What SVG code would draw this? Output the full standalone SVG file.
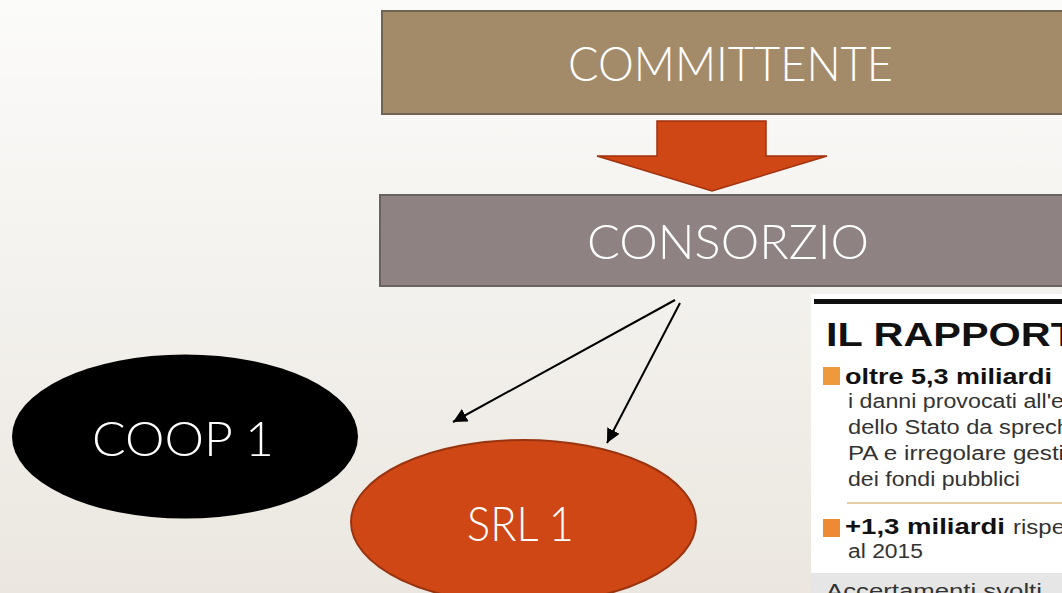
<svg xmlns="http://www.w3.org/2000/svg" width="1062" height="593" viewBox="0 0 1062 593">
  <defs>
    <linearGradient id="bg" x1="0" y1="0" x2="0" y2="1">
      <stop offset="0" stop-color="#fbfbfa"/>
      <stop offset="1" stop-color="#ebe7e0"/>
    </linearGradient>
    <marker id="head" viewBox="0 0 10 10" refX="10" refY="5" markerWidth="7" markerHeight="7" orient="auto" markerUnits="strokeWidth">
      <path d="M0,0 L10,5 L0,10 z" fill="#000"/>
    </marker>
    <style>
      .label { font-family: Lato, "Liberation Sans", sans-serif; font-weight: 300; fill: #ffffff; font-size: 48px; }
      .clip-b { font-family: "Liberation Sans", Arial, sans-serif; font-weight: bold; fill: #111; }
      .clip-r { font-family: "Liberation Sans", Arial, sans-serif; fill: #333; font-size: 20px; }
      .conn { stroke: #000; stroke-width: 2; fill: none; marker-end: url(#head); }
    </style>
  </defs>

  <rect x="0" y="0" width="1062" height="593" fill="url(#bg)"/>

  <g id="committente">
    <rect x="382" y="11" width="700" height="103" fill="#a38b69" stroke="#6f6552" stroke-width="2"/>
    <text class="label" x="568" y="81" textLength="325" lengthAdjust="spacingAndGlyphs">COMMITTENTE</text>
  </g>

  <g id="block-arrow">
    <polygon points="657,121 766,121 766,156 827,156 712,191 597,156 657,156" fill="#d04716" stroke="#a0320f" stroke-width="1.5"/>
  </g>

  <g id="consorzio">
    <rect x="380" y="195" width="700" height="91" fill="#8e8282" stroke="#6a6262" stroke-width="2"/>
    <text class="label" x="587" y="259" textLength="282" lengthAdjust="spacingAndGlyphs">CONSORZIO</text>
  </g>

  <g id="coop1">
    <ellipse cx="185" cy="436.5" rx="173" ry="82" fill="#000"/>
    <text class="label" x="92" y="456" textLength="182" lengthAdjust="spacingAndGlyphs">COOP 1</text>
  </g>

  <g id="srl1">
    <ellipse cx="523.5" cy="522" rx="172.5" ry="82" fill="#d04716" stroke="#9a3410" stroke-width="2"/>
    <text class="label" x="467" y="541" textLength="107" lengthAdjust="spacingAndGlyphs">SRL 1</text>
  </g>

  <g id="connectors">
    <line class="conn" x1="675" y1="300" x2="453" y2="422"/>
    <line class="conn" x1="680" y1="303" x2="607" y2="443"/>
  </g>

  <!-- newspaper clipping -->
  <g id="clipping">
    <rect x="811" y="294" width="260" height="310" fill="#ffffff"/>
    <rect x="814" y="299" width="260" height="5" fill="#111"/>
    <text class="clip-b" x="826" y="346" font-size="34" textLength="250" lengthAdjust="spacingAndGlyphs">IL RAPPORT</text>

    <rect x="823" y="367" width="17" height="18" fill="#ee9a3c"/>
    <text class="clip-b" x="845" y="384" font-size="22" textLength="207" lengthAdjust="spacingAndGlyphs">oltre 5,3 miliardi</text>
    <text class="clip-r" x="848" y="408" textLength="216" lengthAdjust="spacingAndGlyphs">i danni provocati all'e</text>
    <text class="clip-r" x="848" y="434" textLength="222" lengthAdjust="spacingAndGlyphs">dello Stato da sprech</text>
    <text class="clip-r" x="848" y="460" textLength="216" lengthAdjust="spacingAndGlyphs">PA e irregolare gesti</text>
    <text class="clip-r" x="848" y="486" textLength="172" lengthAdjust="spacingAndGlyphs">dei fondi pubblici</text>

    <line x1="847" y1="503" x2="1062" y2="503" stroke="#e2cfa6" stroke-width="2"/>

    <rect x="823" y="519" width="17" height="18" fill="#ee8a34"/>
    <text class="clip-b" x="845" y="534" font-size="22" textLength="160" lengthAdjust="spacingAndGlyphs">+1,3 miliardi</text>
    <text class="clip-r" x="1013" y="534" textLength="52" lengthAdjust="spacingAndGlyphs">rispe</text>
    <text class="clip-r" x="848" y="558" textLength="75" lengthAdjust="spacingAndGlyphs">al 2015</text>

    <rect x="811" y="573" width="260" height="30" fill="#e6e6e6"/>
    <text class="clip-r" x="826" y="598" fill="#222" textLength="216" lengthAdjust="spacingAndGlyphs">Accertamenti svolti</text>
  </g>
</svg>
